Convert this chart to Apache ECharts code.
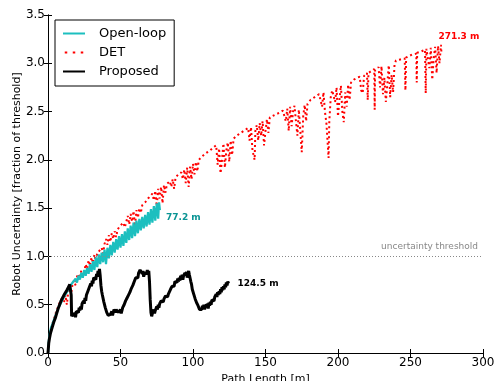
<!DOCTYPE html>
<html>
<head>
<meta charset="utf-8">
<script src="https://cdn.jsdelivr.net/npm/echarts@6/dist/echarts.min.js"></script>
<style>
  html, body { margin: 0; padding: 0; background: #fff; }
  #chart { width: 495px; height: 381px; }
</style>
</head>
<body>
<div id="chart"></div>
<script>
// Axis ranges and tick values
const xTicks = [0, 50, 100, 150, 200, 250, 300];
const yTicks = [0.0, 0.5, 1.0, 1.5, 2.0, 2.5, 3.0, 3.5];
const threshold = 1.0;

// Robot uncertainty vs path length, [path length m, uncertainty]
const openLoop = [
  [0,0],[0.5,0.12],[1,0.18],[1.5,0.22],[2,0.26],[3,0.3],[4,0.34],[5,0.38],[6,0.42],[7,0.46],
  [8,0.49],[9,0.52],[10,0.55],[11,0.58],[12,0.6],[13,0.63],[14,0.66],[15,0.69],[16,0.71],[17,0.73],
  [18,0.71],[19,0.77],[20,0.73],[21,0.8],[22,0.76],[23,0.83],[24,0.78],[25,0.86],[26,0.8],[27,0.88],
  [28,0.82],[29,0.92],[30,0.84],[31,0.95],[32,0.86],[33,0.99],[34,0.89],[35,1.02],[36,0.92],[37,1.04],
  [38,0.94],[39,1.07],[40,0.92],[41,1.09],[42,0.98],[43,1.12],[44,1.01],[45,1.15],[46,1.04],[47,1.18],
  [48,1.07],[49,1.21],[50,1.09],[51,1.23],[52,1.11],[53,1.26],[54,1.14],[55,1.29],[56,1.17],[57,1.32],
  [58,1.19],[59,1.35],[60,1.21],[61,1.37],[62,1.24],[63,1.39],[64,1.27],[65,1.41],[66,1.29],[67,1.43],
  [68,1.31],[69,1.46],[70,1.33],[71,1.49],[72,1.35],[73,1.52],[74,1.37],[75,1.55],[76,1.39],[76.6,1.56],
  [77.2,1.48]
];

const det = [
  [0,0],[0.5,0.09],[1,0.16],[2,0.24],[3,0.3],[4,0.35],[5,0.4],[6,0.44],[7,0.48],[8,0.52],[9,0.55],[10,0.58],
  [11,0.52],[12,0.6],[13,0.5],[14,0.64],[15,0.67],[16,0.62],[17,0.72],[18,0.75],[19,0.7],[20,0.79],[21,0.82],[22,0.77],
  [23,0.86],[24,0.88],[25,0.84],[26,0.92],[27,0.87],[28,0.96],[29,0.9],[30,0.99],[31,0.93],[32,1.02],[33,0.95],[34,1.04],
  [35.5,1.06],[37,1.09],[38,1.03],[39,1.13],[40,1.18],[41,1.12],[42,1.22],[43,1.15],[44,1.24],[45,1.18],[46,1.26],[47,1.2],[48,1.28],[49,1.3],
  [50,1.32],[52,1.35],[53,1.3],[55,1.42],[56,1.33],[57,1.44],[58,1.36],[59,1.47],[60,1.31],[61,1.48],[62,1.4],[63,1.5],[64,1.45],[65,1.53],
  [67,1.56],[69,1.6],[70,1.62],[72,1.65],[73,1.58],[74,1.68],[75,1.52],[76,1.7],[77,1.6],[78,1.72],[79,1.55],[80,1.74],[81,1.66],[82,1.75],
  [84,1.78],[85,1.72],[86,1.8],[87,1.7],[88,1.82],
  [90,1.85],[92,1.87],[93,1.8],[94,1.9],[95,1.76],[96,1.92],[97,1.72],[98,1.93],[99,1.8],[100,1.96],[101,1.85],[102,1.98],[103,1.88],[104,2.0],
  [106,2.03],[108,2.06],[110,2.08],[112,2.1],[114,2.13],
  [116,2.15],[117,1.95],[118,2.12],[119,1.86],[120,2.0],[121,2.17],[122,1.92],[123,2.1],[124,2.18],[125,1.98],[126,2.2],[127,2.05],[128,2.22],
  [130,2.25],[132,2.27],[134,2.29],[136,2.31],[138,2.33],
  [139,2.2],[140,2.34],[141,2.1],[142.5,2.0],[143,2.3],[144,2.36],[145,2.2],[146,2.38],[147,2.25],[148,2.4],[149,2.15],[150,2.3],[151,2.42],[152,2.28],[153,2.44],
  [157,2.47],[160,2.49],[162,2.51],
  [164,2.4],[165,2.53],[166,2.3],[167,2.55],[168,2.35],[169,2.5],[170,2.56],[171,2.4],[172,2.25],[173,2.52],[174,2.3],[175,2.08],[176,2.45],[177,2.57],[178,2.4],[179,2.58],
  [181,2.62],[183,2.64],[185,2.66],[187,2.68],
  [189,2.55],[190,2.7],[191,2.5],[192,2.38],[193.5,2.02],[194,2.4],[195,2.65],[196,2.72],
  [198,2.6],[199,2.75],[200,2.45],[201,2.62],[202,2.77],[203,2.5],[204,2.39],[205,2.7],[206,2.55],[207,2.78],[208,2.62],[209,2.8],
  [211,2.83],[213,2.85],
  [215,2.86],[216,2.72],[217,2.69],[218,2.87],
  [220,2.9],[220.5,2.62],[221,2.9],
  [223,2.92],[225,2.94],[225.3,2.52],[225.6,2.93],
  [228,2.96],[229,2.75],[230,2.97],[231,2.68],[232,2.85],[233,2.6],[234,2.78],[235,2.98],[236,2.65],[237,2.88],[238,2.7],[239,2.99],[240,3.03],
  [243,3.04],[246,3.05],[246.5,2.72],[247,3.06],[251,3.09],[254,3.1],[254.3,2.8],[254.6,3.11],[257,3.12],[260,3.14],[260.5,2.69],[261,3.15],
  [263,2.95],[264,3.16],[265,2.83],[266,3.05],[267,3.17],[268,2.9],[269,3.18],[270,3.0],[271,3.19],[271.3,3.12]
];

const proposed = [
  [0,0],[0.5,0.1],[1,0.15],[1.5,0.19],[2,0.22],[3,0.27],[4,0.32],[5,0.36],[6,0.41],[7,0.46],[8,0.5],[9,0.54],
  [10,0.57],[11,0.6],[12,0.62],[13,0.65],[14,0.68],[15,0.71],[15.6,0.73],[16,0.6],[16.3,0.38],[17,0.36],[17.5,0.41],[18,0.38],
  [18.5,0.42],[19,0.37],[19.5,0.43],[20,0.41],[20.5,0.45],[21,0.42],[21.5,0.47],[22,0.44],[22.5,0.48],[23,0.45],[23.5,0.51],[24,0.49],
  [24.5,0.54],[25,0.51],[25.5,0.57],[26,0.54],[26.5,0.6],[27,0.58],[27.5,0.64],[28,0.62],[28.5,0.68],[29,0.66],[29.5,0.72],[30,0.69],
  [30.5,0.75],[31,0.72],[31.5,0.78],[32,0.76],[32.5,0.8],[33,0.76],[33.5,0.82],[34,0.79],[34.5,0.85],[35,0.82],[35.5,0.87],[36,0.8],
  [36.5,0.7],[37,0.64],[37.5,0.6],[38,0.58],[38.5,0.53],[39,0.52],[39.5,0.47],[40,0.47],[40.5,0.42],[41,0.43],[41.5,0.39],[42,0.41],
  [42.5,0.37],[43,0.4],[43.5,0.38],[44,0.43],[44.5,0.39],[45,0.41],[45.5,0.45],[46,0.47],[46.5,0.42],[47,0.45],[47.5,0.43],[48,0.47],
  [48.5,0.42],[49,0.44],[49.5,0.41],[50,0.45],[50.5,0.41],[51,0.43],[51.5,0.47],[52,0.45],[52.5,0.5],[53,0.49],[53.5,0.54],[54,0.52],
  [54.5,0.57],[55,0.55],[55.5,0.6],[56,0.58],[56.5,0.63],[57,0.62],[57.5,0.67],[58,0.65],[58.5,0.7],[59,0.69],[59.5,0.74],[60,0.72],
  [60.5,0.78],[61,0.76],[61.5,0.8],[62,0.78],[62.5,0.83],[63,0.81],[63.5,0.86],[64,0.84],[64.5,0.87],[65,0.82],[65.5,0.85],[66,0.79],
  [66.5,0.83],[67,0.81],[67.5,0.85],[68,0.82],[68.5,0.86],[69,0.81],[69.5,0.85],[70,0.74],[70.5,0.55],[71,0.42],[71.5,0.38],[72,0.41],
  [72.5,0.39],[73,0.45],[73.5,0.41],[74,0.44],[74.5,0.42],[75,0.48],[75.5,0.45],[76,0.5],[76.5,0.47],[77,0.51],[77.5,0.49],[78,0.54],
  [78.5,0.52],[79,0.56],[79.5,0.53],[80,0.56],[80.5,0.54],[81,0.59],[81.5,0.57],[82,0.61],[82.5,0.58],[83,0.61],[83.5,0.63],[84,0.61],
  [84.5,0.66],[85,0.64],[85.5,0.69],[86,0.67],[86.5,0.71],[87,0.69],[87.5,0.74],[88,0.72],[88.5,0.76],[89,0.73],[89.5,0.77],[90,0.74],
  [90.5,0.78],[91,0.75],[91.5,0.8],[92,0.77],[92.5,0.81],[93,0.76],[93.5,0.8],[94,0.78],[94.5,0.83],[95,0.8],[95.5,0.84],[96,0.78],
  [96.5,0.82],[97,0.85],[97.5,0.81],[98,0.79],[98.5,0.74],[99,0.71],[99.5,0.66],[100,0.64],[100.5,0.61],[101,0.6],[101.5,0.56],[102,0.57],
  [102.5,0.52],[103,0.53],[103.5,0.49],[104,0.5],[104.5,0.45],[105,0.47],[105.5,0.43],[106,0.45],[106.5,0.49],[107,0.46],[107.5,0.5],[108,0.45],
  [108.5,0.49],[109,0.51],[109.5,0.47],[110,0.5],[110.5,0.46],[111,0.52],[111.5,0.49],[112,0.53],[112.5,0.5],[113,0.55],[113.5,0.53],[114,0.57],
  [114.5,0.54],[115,0.58],[115.5,0.56],[116,0.61],[116.5,0.58],[117,0.63],[117.5,0.6],[118,0.64],[118.5,0.61],[119,0.66],[119.5,0.63],[120,0.68],
  [120.5,0.65],[121,0.69],[121.5,0.66],[122,0.71],[122.5,0.68],[123,0.73],[123.5,0.7],[124,0.74],[124.5,0.72]
];

// Final path lengths shown next to each curve's end
const endLengths = { openLoop: 77.2, det: 271.3, proposed: 124.5 };

const FONT = 'DejaVu Sans';
const chart = echarts.init(document.getElementById('chart'), null, { renderer: 'canvas' });

function lastPoint(arr) { return arr[arr.length - 1]; }

function endMark(arr, text, color, offset) {
  return {
    symbol: 'circle', symbolSize: 0, silent: true,
    label: {
      show: true, position: 'right', formatter: text, color: color,
      fontFamily: FONT, fontWeight: 'bold', fontSize: 9, offset: offset
    },
    data: [{ coord: lastPoint(arr) }]
  };
}

// Legend keys: a solid stroke and a row of dots
const solidKey = 'path://M0,0 L22,0 L22,2 L0,2 Z';
const dottedKey = 'path://M0,0 h2.5 v2 h-2.5 Z M8,0 h2.5 v2 h-2.5 Z M16,0 h2.5 v2 h-2.5 Z';

const tickAxisCommon = {
  type: 'value',
  axisLine: { show: true, lineStyle: { color: '#000', width: 1 } },
  axisTick: { show: true, inside: true, length: 4, lineStyle: { color: '#000' } },
  splitLine: { show: false }
};

chart.setOption({
  animation: false,
  backgroundColor: '#fff',
  textStyle: { fontFamily: FONT },
  grid: { left: 48, right: 12, top: 15, bottom: 28, containLabel: false, outerBoundsMode: 'none' },
  legend: {
    orient: 'vertical', left: 55, top: 20,
    backgroundColor: '#fff', borderColor: '#000', borderWidth: 1, borderRadius: 0,
    padding: [7, 8, 8, 8], itemGap: 6, itemWidth: 22, itemHeight: 2,
    textStyle: { fontFamily: FONT, fontSize: 13, color: '#000', padding: [0, 0, 0, 9] },
    data: [
      { name: 'Open-loop', icon: solidKey },
      { name: 'DET', icon: dottedKey },
      { name: 'Proposed', icon: solidKey }
    ]
  },
  xAxis: [
    Object.assign({}, tickAxisCommon, {
      min: xTicks[0], max: xTicks[xTicks.length - 1], interval: 50, position: 'bottom',
      name: 'Path Length [m]', nameLocation: 'middle', nameGap: 15,
      nameTextStyle: { fontFamily: FONT, fontSize: 11, color: '#000' },
      axisLabel: { fontFamily: FONT, fontSize: 12, color: '#000', margin: 4 }
    }),
    Object.assign({}, tickAxisCommon, {
      min: xTicks[0], max: xTicks[xTicks.length - 1], interval: 50, position: 'top',
      axisLabel: { show: false }
    })
  ],
  yAxis: [
    Object.assign({}, tickAxisCommon, {
      min: yTicks[0], max: yTicks[yTicks.length - 1], interval: 0.5, position: 'left',
      name: 'Robot Uncertainty [fraction of threshold]', nameLocation: 'middle', nameGap: 25,
      nameMoveOverlap: false,
      nameTextStyle: { fontFamily: FONT, fontSize: 11, color: '#000' },
      axisLabel: { fontFamily: FONT, fontSize: 12, color: '#000', margin: 3,
        formatter: v => v.toFixed(1) }
    }),
    Object.assign({}, tickAxisCommon, {
      min: yTicks[0], max: yTicks[yTicks.length - 1], interval: 0.5, position: 'right',
      axisLabel: { show: false }
    })
  ],
  series: [
    {
      name: 'DET', type: 'line', data: det, symbol: 'none', z: 2,
      lineStyle: { color: '#ff0000', width: 2, type: [2, 3] },
      itemStyle: { color: '#ff0000' },
      markPoint: endMark(det, endLengths.det.toFixed(1) + ' m', '#ff0000', [-8, -15])
    },
    {
      name: 'Open-loop', type: 'line', data: openLoop, symbol: 'none', z: 3,
      lineStyle: { color: '#1cbfbf', width: 2.2 },
      itemStyle: { color: '#1cbfbf' },
      markPoint: endMark(openLoop, endLengths.openLoop.toFixed(1) + ' m', '#0a9494', [1, 8])
    },
    {
      name: 'Proposed', type: 'line', data: proposed, symbol: 'none', z: 4,
      lineStyle: { color: '#000', width: 3 },
      itemStyle: { color: '#000' },
      markPoint: endMark(proposed, endLengths.proposed.toFixed(1) + ' m', '#000', [4, 0]),
      markLine: {
        silent: true, symbol: 'none',
        lineStyle: { color: '#888', type: [1, 2], width: 1 },
        label: {
          show: true, position: 'insideEndTop', formatter: 'uncertainty threshold',
          color: '#888', fontFamily: FONT, fontSize: 9
        },
        data: [{ yAxis: threshold }]
      }
    }
  ]
});
</script>
</body>
</html>
